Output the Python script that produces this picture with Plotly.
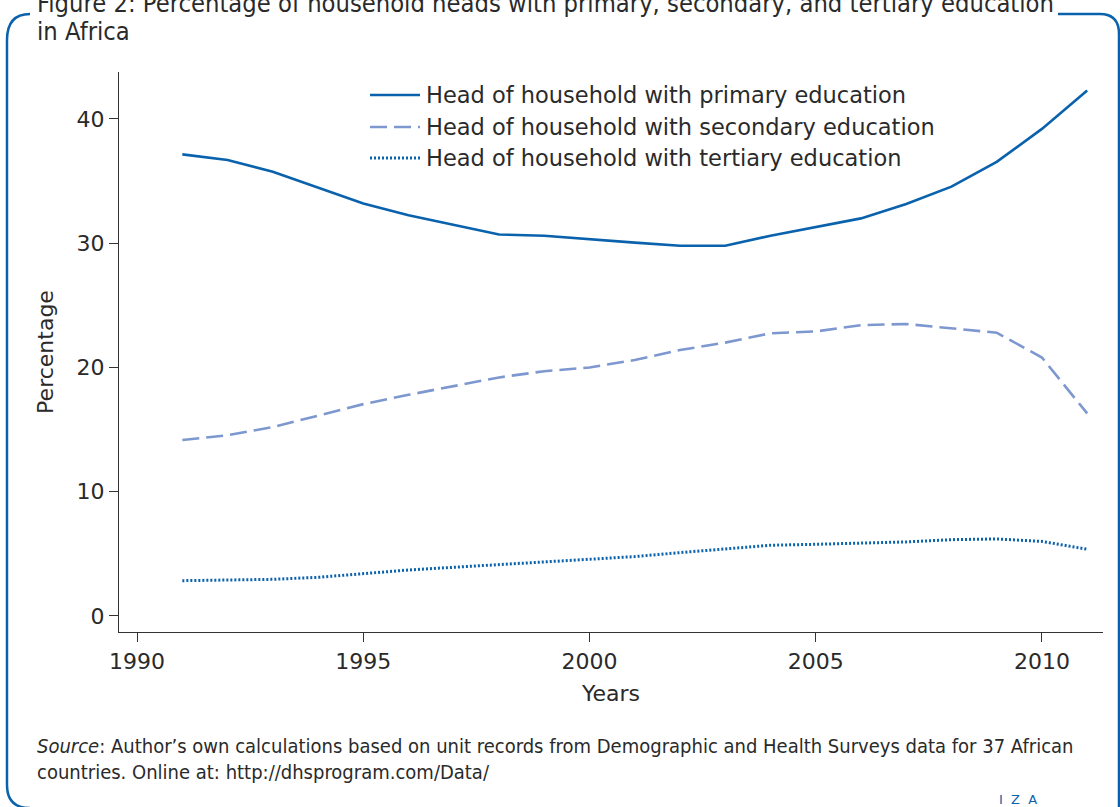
import plotly.graph_objects as go

years = list(range(1991, 2012))
primary = [37.15, 36.7, 35.75, 34.45, 33.2, 32.25, 31.5, 30.7, 30.6, 30.3, 30.05,
           29.8, 29.8, 30.6, 31.3, 32.0, 33.15, 34.55, 36.55, 39.2, 42.3]
secondary = [14.16, 14.55, 15.2, 16.15, 17.05, 17.8, 18.5, 19.2, 19.7, 20.0, 20.6,
             21.4, 22.0, 22.75, 22.9, 23.4, 23.5, 23.15, 22.8, 20.8, 16.3]
tertiary = [2.84, 2.92, 2.95, 3.11, 3.43, 3.7, 3.92, 4.13, 4.4, 4.56, 4.78,
            5.1, 5.37, 5.69, 5.77, 5.85, 5.96, 6.14, 6.2, 6.0, 5.37]
series_names = ["Head of household with primary education",
                "Head of household with secondary education",
                "Head of household with tertiary education"]
x_ticks = [1990, 1995, 2000, 2005, 2010]
y_ticks = [0, 10, 20, 30, 40]

W, H = 1120, 807
L, R, T, B = 119, 1103, 72, 632
BLUE = "#0a62ad"
LIGHT = "#7d97cf"
TXT = "#2a2a2a"
FONT = "DejaVu Sans"
NARROW = "DejaVu Sans Condensed, DejaVu Sans"

def px(x):
    return (x - L) / (R - L)

def py(y):
    return (B - y) / (B - T)

styles = [dict(color=BLUE, width=2.6),
          dict(color=LIGHT, width=2.6, dash="17px,7px"),
          dict(color=BLUE, width=3, dash="2px,2px")]

fig = go.Figure()
for name, vals, st in zip(series_names, [primary, secondary, tertiary], styles):
    fig.add_trace(go.Scatter(x=years, y=vals, mode="lines", name=name,
                             line=st, showlegend=False))

# frame
frame_left = (f"M {px(30)},{py(14)} Q {px(7)},{py(14)} {px(7)},{py(40)} "
              f"L {px(7)},{py(785)} Q {px(7)},{py(808)} {px(30)},{py(808)}")
frame_right = (f"M {px(1058)},{py(14)} L {px(1100)},{py(14)} "
               f"Q {px(1119)},{py(14)} {px(1119)},{py(34)} L {px(1119)},{py(808)}")
shapes = [
    dict(type="path", xref="paper", yref="paper", path=frame_left,
         line=dict(color=BLUE, width=2.5)),
    dict(type="path", xref="paper", yref="paper", path=frame_right,
         line=dict(color=BLUE, width=2.5)),
]

annotations = [
    dict(text="Figure 2: Percentage of household heads with primary, secondary, and tertiary education",
         xref="paper", yref="paper", x=px(35), y=py(3), xanchor="left", yanchor="middle",
         showarrow=False, font=dict(family=NARROW, size=25.3, color=TXT)),
    dict(text="in Africa",
         xref="paper", yref="paper", x=px(35), y=py(31), xanchor="left", yanchor="middle",
         showarrow=False, font=dict(family=NARROW, size=25.3, color=TXT)),
    dict(text="<i>Source</i>: Author\u2019s own calculations based on unit records from Demographic and Health Surveys data for 37 African",
         xref="paper", yref="paper", x=px(35), y=py(746), xanchor="left", yanchor="middle",
         showarrow=False, font=dict(family=NARROW, size=20, color=TXT)),
    dict(text="countries. Online at: http://dhsprogram.com/Data/",
         xref="paper", yref="paper", x=px(35), y=py(772), xanchor="left", yanchor="middle",
         showarrow=False, font=dict(family=NARROW, size=20, color=TXT)),
    dict(text="I  Z  A",
         xref="paper", yref="paper", x=px(1018), y=py(799), xanchor="center", yanchor="middle",
         showarrow=False, font=dict(family=FONT, size=13, color=BLUE)),
]

# manual legend
leg_rows = [95, 127, 158]
for name, st, ry in zip(series_names, styles, leg_rows):
    shapes.append(dict(type="line", xref="paper", yref="paper",
                       x0=px(370), x1=px(420), y0=py(ry), y1=py(ry),
                       line=st))
    annotations.append(dict(text=name, xref="paper", yref="paper", x=px(424), y=py(ry),
                            xanchor="left", yanchor="middle", showarrow=False,
                            font=dict(family=FONT, size=22.5, color=TXT)))

fig.update_layout(
    width=W, height=H,
    margin=dict(l=L, r=W - R, t=T, b=H - B, pad=0),
    paper_bgcolor="white", plot_bgcolor="white",
    font=dict(family=FONT, size=22, color=TXT),
    showlegend=False,
    shapes=shapes,
    annotations=annotations,
    xaxis=dict(range=[1989.6, 2011.35], tickvals=x_ticks, showgrid=False, zeroline=False,
               showline=True, linecolor="#333", linewidth=1.2, ticks="outside", ticklen=9,
               tickcolor="#333", tickfont=dict(size=22, color=TXT),
               title=dict(text="Years", font=dict(size=22, color=TXT), standoff=13)),
    yaxis=dict(range=[-1.29, 43.78], tickvals=y_ticks, showgrid=False, zeroline=False,
               showline=True, linecolor="#333", linewidth=1.2, ticks="outside", ticklen=9,
               tickcolor="#333", tickfont=dict(size=22, color=TXT),
               title=dict(text="Percentage", font=dict(size=22, color=TXT), standoff=16)),
)

fig.write_html("out.html", config={"displayModeBar": False},
               post_script="document.body.style.margin='0';document.body.style.overflow='hidden';")
